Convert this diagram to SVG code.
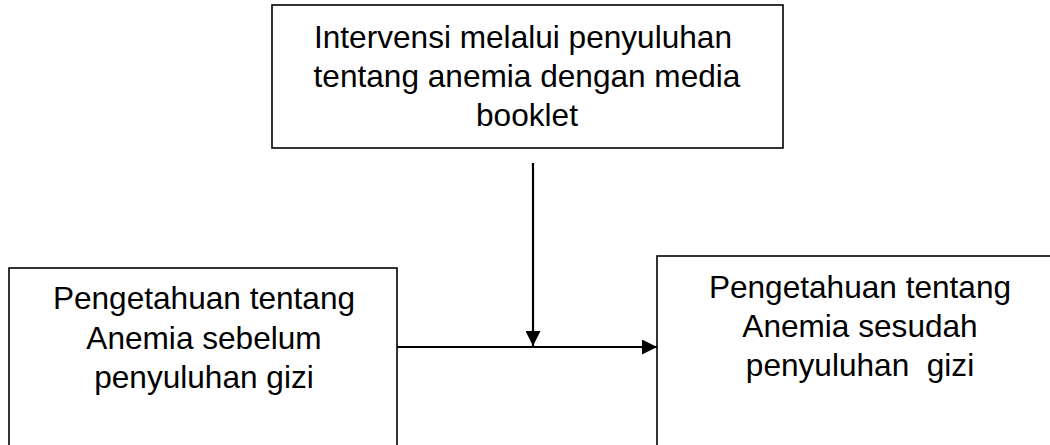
<svg xmlns="http://www.w3.org/2000/svg" width="1050" height="445" viewBox="0 0 1050 445">
<style>
.box{fill:#fff;stroke:#000;stroke-width:1.6}
.t{font-family:"Liberation Sans",Arial,sans-serif;font-size:31.6px;fill:#000;text-anchor:middle}
.c{stroke:#000;stroke-width:2.2;fill:none}
</style>
<defs>
<marker id="ah" viewBox="0 0 15 15" refX="15" refY="7.5" markerWidth="15" markerHeight="15" markerUnits="userSpaceOnUse" orient="auto">
<path d="M0,0 L15,7.5 L0,15 Z" fill="#000"/>
</marker>
</defs>
<rect width="1050" height="445" fill="#fff"/>
<g id="node-intervensi">
<rect class="box" x="272" y="5" width="511" height="143"/>
<text class="t" x="523" y="48">Intervensi melalui penyuluhan</text>
<text class="t" x="527" y="87">tentang anemia dengan media</text>
<text class="t" x="527" y="126">booklet</text>
</g>
<g id="node-sebelum">
<rect class="box" x="9" y="268" width="388" height="190"/>
<text class="t" x="204" y="309">Pengetahuan tentang</text>
<text class="t" x="204" y="349">Anemia sebelum</text>
<text class="t" x="204" y="388">penyuluhan gizi</text>
</g>
<g id="node-sesudah">
<rect class="box" x="657" y="256" width="407" height="200"/>
<text class="t" x="860" y="298">Pengetahuan tentang</text>
<text class="t" x="860" y="337">Anemia sesudah</text>
<text class="t" x="860" y="376" xml:space="preserve">penyuluhan  gizi</text>
</g>
<g id="connectors">
<line class="c" x1="397" y1="347" x2="657" y2="347" marker-end="url(#ah)"/>
<line class="c" x1="533" y1="163" x2="533" y2="346" marker-end="url(#ah)"/>
</g>
</svg>
